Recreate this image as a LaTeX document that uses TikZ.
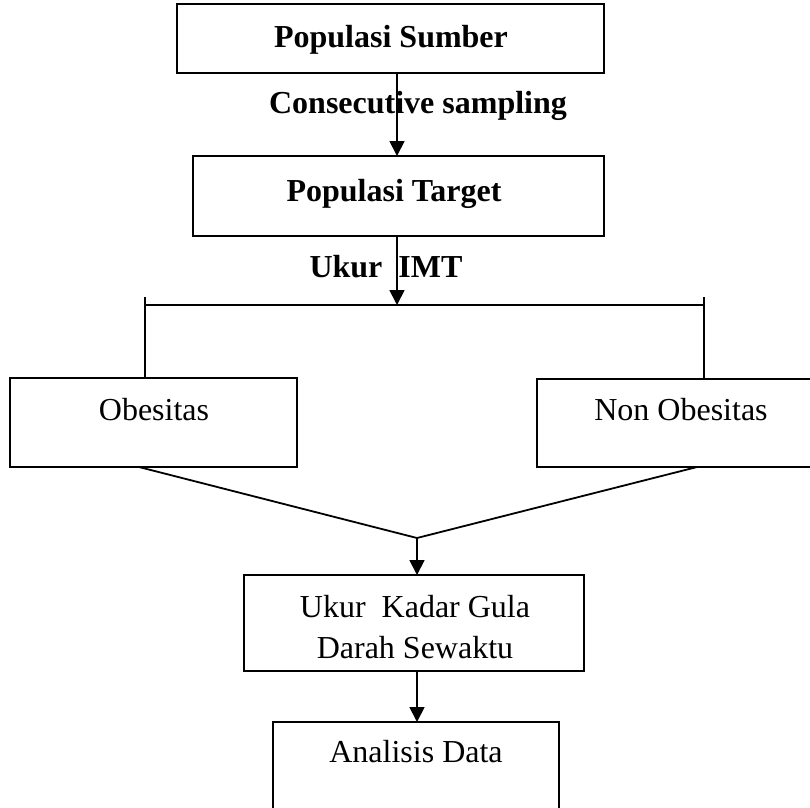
\documentclass[tikz,border=0pt]{standalone}
\usepackage{fontspec}
\setmainfont{Liberation Serif}
\usetikzlibrary{arrows.meta}
\tikzset{
  box/.style={draw, line width=2.2pt, rectangle, inner sep=0pt, outer sep=0pt},
  lbl/.style={anchor=base, inner sep=0pt, font=\fontsize{32}{41}\selectfont},
  blbl/.style={lbl, font=\fontsize{32}{41}\selectfont\bfseries},
  conn/.style={line width=1.8pt},
  arr/.style={conn, -{Triangle[length=15pt, width=15pt]}}
}
\begin{document}
\begin{tikzpicture}[x=1pt, y=-1pt]
  \useasboundingbox (0,0) rectangle (810,807);
  \clip (0,0) rectangle (810,807);

  % boxes
  \node[box, minimum width=427pt, minimum height=69pt] (sumber) at (390.5,38.5) {};
  \node[box, minimum width=411pt, minimum height=80pt] (target) at (398.5,196) {};
  \node[box, minimum width=287pt, minimum height=89pt] (obes) at (153.5,422.5) {};
  \node[box, minimum width=290pt, minimum height=88pt] (nonobes) at (682,423) {};
  \node[box, minimum width=340pt, minimum height=96pt] (gula) at (414,623) {};
  \node[box, minimum width=286pt, minimum height=120pt] (analisis) at (416,782) {};

  % texts
  \node[blbl] (t1) at (391,47) {Populasi Sumber};
  \node[blbl] (t2) at (418,113) {Consecutive sampling};
  \node[blbl] (t3) at (394,201) {Populasi Target};
  \node[blbl] (t4) at (386,277) {Ukur\ \ IMT};
  \node[lbl] (t5) at (154,420) {Obesitas};
  \node[lbl] (t6) at (681,420) {Non Obesitas};
  % base anchor of a two-line node sits on the last line
  \node[lbl, align=center] (t7) at (415,658) {Ukur\ \ Kadar Gula\\Darah Sewaktu};
  \node[lbl] (t8) at (416,762) {Analisis Data};

  % junction points
  \coordinate (axis) at (397,0);
  \coordinate (split) at (397,305);
  \coordinate (lefttop) at (145,297);
  \coordinate (righttop) at (704,297);
  \coordinate (merge) at (417,538);
  \coordinate (axis2) at (417,0);
  \coordinate (obesout) at (139,0);
  \coordinate (nonout) at (697,0);

  % connectors
  \draw[arr] (sumber.south -| axis) -- (target.north -| axis);
  \draw[arr] (target.south -| axis) -- (split);
  \draw[conn] (split -| lefttop) -- (split -| righttop);
  \draw[conn] (lefttop) -- (obes.north -| lefttop);
  \draw[conn] (righttop) -- (nonobes.north -| righttop);
  \draw[conn] (obes.south -| obesout) -- (merge);
  \draw[conn] (nonobes.south -| nonout) -- (merge);
  \draw[arr] (merge) -- (gula.north -| axis2);
  \draw[arr] (gula.south -| axis2) -- (analisis.north -| axis2);
\end{tikzpicture}
\end{document}
